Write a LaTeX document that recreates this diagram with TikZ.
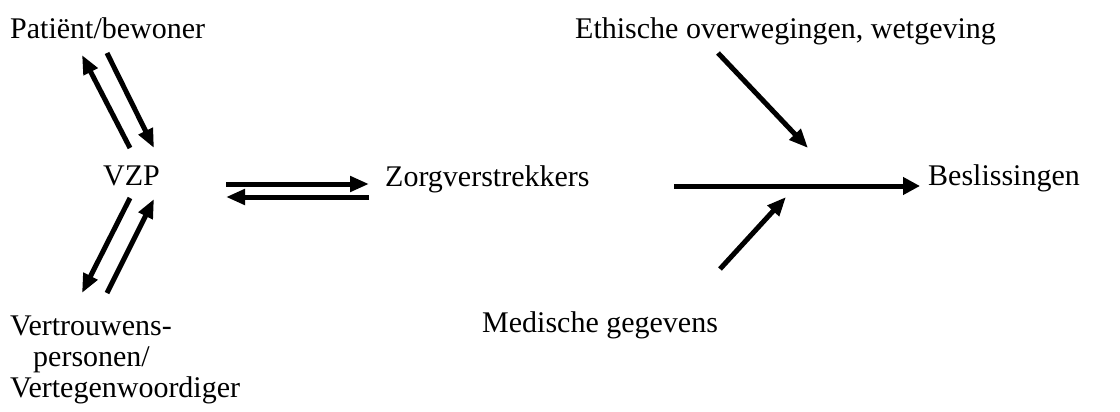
\documentclass[tikz,border=0pt]{standalone}
\usepackage{fontspec}
\setmainfont{Liberation Serif}
\usetikzlibrary{arrows.meta}
\begin{document}
\begin{tikzpicture}[x=1pt,y=-1pt,
  lbl/.style={inner sep=0pt,font=\fontsize{30}{31}\selectfont},
  conn/.style={line width=5pt,-{Triangle[length=19pt,width=15pt]}},
  bigconn/.style={line width=5pt,-{Triangle[length=17pt,width=17pt]}}]
\useasboundingbox (0,0) rectangle (1120,412);
\node[lbl,anchor=base west] (pat) at (10,39) {Patiënt/bewoner};
\node[lbl,anchor=base west] (vzp) at (103,185) {VZP};
\node[lbl,anchor=base west] (zorg) at (385,186) {Zorgverstrekkers};
\node[lbl,anchor=base west] (eth) at (575,39) {Ethische overwegingen, wetgeving};
\node[lbl,anchor=base west] (bes) at (928,185) {Beslissingen};
\node[lbl,anchor=base west] (med) at (482,332) {Medische gegevens};
\node[lbl,anchor=base west] (ver1) at (10,335) {Vertrouwens-};
\node[lbl,anchor=base west] (ver2) at (33,366) {personen/};
\node[lbl,anchor=base west] (ver3) at (10,397) {Vertegenwoordiger};
% coordinates
\coordinate (p1s) at (130,148); \coordinate (p1e) at (82,55);
\coordinate (p2s) at (107,53);  \coordinate (p2e) at (154,148);
\coordinate (v1s) at (130,198); \coordinate (v1e) at (82,293);
\coordinate (v2s) at (107,293); \coordinate (v2e) at (154,199);
\coordinate (h1s) at (226,184); \coordinate (h1e) at (369,184);
\coordinate (h2s) at (369,197); \coordinate (h2e) at (226,197);
\coordinate (ms) at (674,186);  \coordinate (me) at (920,186);
\coordinate (es) at (718,53);   \coordinate (ee) at (808,148);
\coordinate (gs) at (720,269);  \coordinate (ge) at (786,197);
\draw[conn] (p1s) -- (p1e);
\draw[conn] (p2s) -- (p2e);
\draw[conn] (v1s) -- (v1e);
\draw[conn] (v2s) -- (v2e);
\draw[conn] (h1s) -- (h1e);
\draw[conn] (h2s) -- (h2e);
\draw[bigconn] (ms) -- (me);
\draw[conn] (es) -- (ee);
\draw[conn] (gs) -- (ge);
\end{tikzpicture}
\end{document}
